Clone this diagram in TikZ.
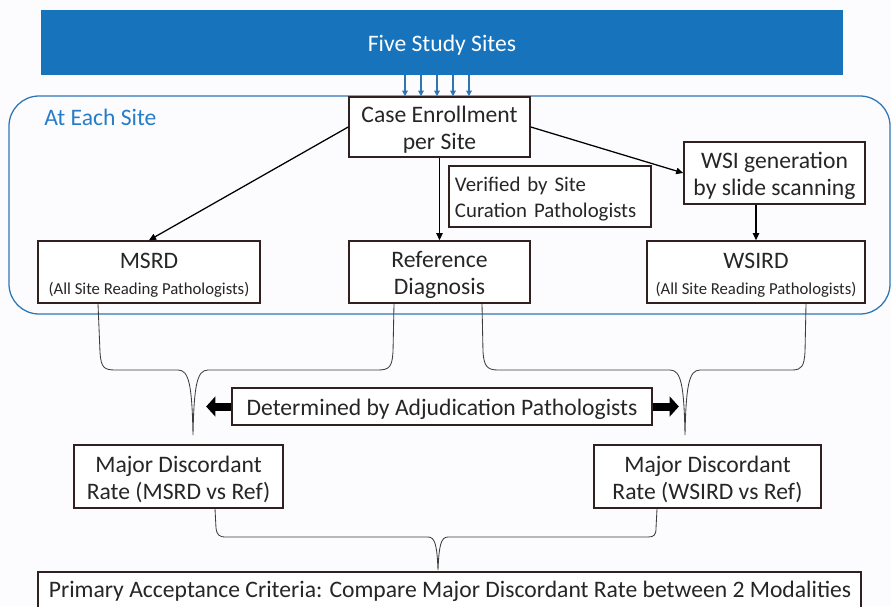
\documentclass[tikz,border=0pt]{standalone}
\usepackage{fontspec}
\setmainfont{Carlito}
\usetikzlibrary{arrows.meta,calc}
\definecolor{bluebar}{RGB}{22,115,188}
\definecolor{roundc}{RGB}{46,117,182}
\definecolor{eachc}{RGB}{40,125,200}
\definecolor{boxc}{RGB}{48,32,32}
\definecolor{txt}{RGB}{38,38,38}
\definecolor{bracec}{RGB}{60,60,60}
\definecolor{bgc}{RGB}{252,252,254}
\newcommand\mainsz{\fontsize{16.8}{19.4}\selectfont}
\newcommand\versz{\fontsize{14.8}{18.5}\selectfont}
\newcommand\smallsz{\fontsize{11.9}{13}\selectfont}
\newcommand\tup{\rule{0pt}{0.95em}}
\tikzset{
  box/.style={draw=boxc, line width=1.1pt, fill=white, inner sep=0pt, align=center, font=\mainsz, text=txt},
  blackarr/.style={draw=black, line width=0.9pt, -{Triangle[length=5pt,width=4.5pt]}},
  bluearr/.style={draw=roundc, line width=0.8pt, -{Triangle[length=4pt,width=4pt]}},
  fatarr/.style={draw=black, line width=5.7pt, -{Triangle[length=6.5pt,width=14pt]}},
  bracel/.style={draw=bracec, line width=0.6pt},
}
\begin{document}
\begin{tikzpicture}[x=0.025cm,y=-0.025cm]
\useasboundingbox (0,0) rectangle (891,606);
\fill[bgc] (0,0) rectangle (891,606);
\node[fill=bluebar, minimum width=20.05cm, minimum height=1.625cm, inner sep=0pt, text=white, font=\mainsz] (sites) at (442,42.5) {\tup Five Study Sites};
\draw[draw=roundc, line width=0.9pt, rounded corners=0.75cm] (9,96) rectangle (890,314);
\node[text=eachc, font=\mainsz, anchor=west, inner sep=0pt] (each) at (44,117) {At Each Site};
\node[box, minimum width=4.525cm, minimum height=1.5cm] (case) at (439.5,127) {\tup Case Enrollment\\per Site};
\node[box, minimum width=4.525cm, minimum height=1.55cm] (wsi) at (774.5,173) {\tup WSI generation\\by slide scanning};
\node[box, minimum width=5.05cm, minimum height=1.525cm, align=left, font=\versz, text width=4.75cm] (ver) at (550,196.5) {\tup Verified by Site\\Curation Pathologists};
\node[box, minimum width=5.55cm, minimum height=1.55cm] (msrd) at (149,272) {\tup MSRD\\[-1pt]{\smallsz (All Site Reading Pathologists)}};
\node[box, minimum width=4.525cm, minimum height=1.55cm] (ref) at (439.5,272) {\tup Reference\\Diagnosis};
\node[box, minimum width=5.45cm, minimum height=1.55cm] (wsird) at (756,272) {\tup WSIRD\\[-1pt]{\smallsz (All Site Reading Pathologists)}};
\node[box, minimum width=10.5cm, minimum height=0.925cm] (det) at (442,406.5) {\tup Determined by Adjudication Pathologists};
\node[box, minimum width=5.225cm, minimum height=1.575cm] (majl) at (178.5,476.5) {\tup Major Discordant\\Rate (MSRD vs Ref)};
\node[box, minimum width=5.675cm, minimum height=1.575cm] (majr) at (707.5,476.5) {\tup Major Discordant\\Rate (WSIRD vs Ref)};
\draw[draw=boxc, line width=1.1pt, fill=white] (38,572) rectangle (861,650);
\node[font=\mainsz, text=txt, inner sep=0pt] (prim) at (450,591) {Primary Acceptance Criteria: Compare Major Discordant Rate between 2 Modalities};
% small blue arrows
\foreach \x in {405,421,437,453,469} \draw[bluearr] (sites.south -| \x,0) -- (case.north -| \x,0);
% black arrows
\draw[blackarr] (case.west) -- (msrd.north);
\draw[blackarr] (case.south) -- (ref.north);
\draw[blackarr] (case.east) -- (wsi.west);
\draw[blackarr] (wsi.south -| wsird.north) -- (wsird.north);
% fat arrows
\draw[fatarr] (det.west) -- ++(-25,0);
\draw[fatarr] (det.east) -- ++(26,0);
% braces
\draw[bracel] (msrd.south -| 98,0) -- (100,352) .. controls (101,368) and (104,370) .. (116,370) -- (178,370) .. controls (189,370) and (192,385) .. (193,435) .. controls (194,385) and (197,370) .. (208,370) -- (378,370) .. controls (390,370) and (392,366) .. (393,352) -- (ref.south -| 394,0);
\draw[bracel] (ref.south -| 482,0) -- (483,352) .. controls (484,366) and (487,370) .. (498,370) -- (670,370) .. controls (681,370) and (684,385) .. (685,435) .. controls (686,385) and (689,370) .. (700,370) -- (792,370) .. controls (802,370) and (804,366) .. (805,352) -- (wsird.south -| 806,0);
\draw[bracel] (majl.south -| 215,0) -- (216,528) .. controls (217,535) and (219,537) .. (226,537) -- (428,537) .. controls (435,537) and (437,545) .. (438,570) .. controls (439,545) and (441,537) .. (448,537) -- (648,537) .. controls (654,537) and (656,535) .. (656,528) -- (majr.south -| 657,0);
\end{tikzpicture}
\end{document}
